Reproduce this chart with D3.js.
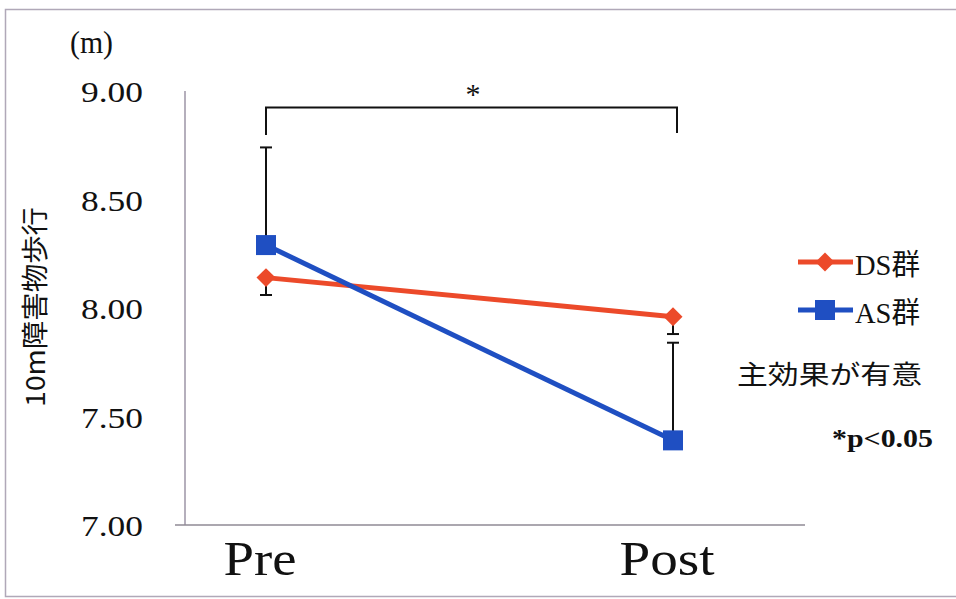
<!DOCTYPE html>
<html>
<head>
<meta charset="utf-8">
<script src="https://cdn.jsdelivr.net/npm/d3@7"></script>
<style>
  html, body { margin: 0; padding: 0; background: #fff; }
  svg { display: block; }
  text { font-family: "Liberation Serif", "Noto Sans CJK JP", serif; fill: #111; }
  .cjk { font-family: "Noto Sans CJK JP", "Liberation Serif", sans-serif; }
</style>
</head>
<body>
<svg id="chart" width="956" height="599"></svg>
<script>
// Measurement times
const phases = ["Pre", "Post"];
// Group means (m)
const groups = ["DS群", "AS群"];
const dsMeans = [8.14, 7.96];
const asMeans = [8.29, 7.39];
// Standard deviations, drawn one-sided (DS below, AS above)
const dsSD = [0.08, 0.08];
const asSD = [0.45, 0.45];
const yTicks = [7.0, 7.5, 8.0, 8.5, 9.0];
const yTickLabels = ["7.00", "7.50", "8.00", "8.50", "9.00"];
const yTitle = "10m障害物歩行";
const unitLabel = "(m)";
const effectNote = "主効果が有意";
const pNote = "*p<0.05";

const colors = { "DS群": "#ec4a2a", "AS群": "#1f4fc2" };

const svg = d3.select("#chart");

// outer frame
svg.append("path")
  .attr("d", "M 970 9.5 H 5.5 V 596.5 H 970")
  .attr("fill", "none").attr("stroke", "#b0a8b8").attr("stroke-width", 1.5);

const y = d3.scaleLinear().domain([7, 9]).range([525, 91]);
const x = d3.scalePoint().domain(phases).range([266, 673]);

// y axis line
svg.append("line")
  .attr("x1", 185).attr("x2", 185).attr("y1", y(9)).attr("y2", y(7))
  .attr("stroke", "#9c94a6").attr("stroke-width", 1.5);
// x axis line
svg.append("line")
  .attr("x1", 175).attr("x2", 805).attr("y1", y(7)).attr("y2", y(7))
  .attr("stroke", "#8f8a94").attr("stroke-width", 1.5);

// y tick labels
svg.append("g").selectAll("text").data(yTicks).join("text")
  .attr("x", 143).attr("y", d => y(d) + 11)
  .attr("text-anchor", "end")
  .attr("font-size", 30)
  .attr("textLength", 62).attr("lengthAdjust", "spacingAndGlyphs")
  .text((d, i) => yTickLabels[i]);

// unit label
svg.append("text").attr("x", 70).attr("y", 53)
  .attr("font-size", 31)
  .attr("textLength", 43).attr("lengthAdjust", "spacingAndGlyphs")
  .text(unitLabel);

// y title (rotated)
svg.append("text").attr("class", "cjk")
  .attr("transform", "translate(45,307) rotate(-90)")
  .attr("text-anchor", "middle")
  .attr("font-size", 27)
  .attr("textLength", 200).attr("lengthAdjust", "spacingAndGlyphs")
  .text(yTitle);

// x category labels
const xLabelWidth = { Pre: 73, Post: 95 };
svg.append("g").selectAll("text").data(phases).join("text")
  .attr("x", d => x(d) - 6).attr("y", 575)
  .attr("text-anchor", "middle")
  .attr("font-size", 48)
  .attr("textLength", d => xLabelWidth[d]).attr("lengthAdjust", "spacingAndGlyphs")
  .text(d => d);

// error bars
function errorBar(px, from, to) {
  const g = svg.append("g").attr("stroke", "#111").attr("stroke-width", 2);
  g.append("line").attr("x1", px).attr("x2", px).attr("y1", y(from)).attr("y2", y(to));
  g.append("line").attr("x1", px - 6).attr("x2", px + 6).attr("y1", y(to)).attr("y2", y(to));
}
phases.forEach((p, i) => {
  errorBar(x(p), dsMeans[i], dsMeans[i] - dsSD[i]);
  errorBar(x(p), asMeans[i], asMeans[i] + asSD[i]);
});

// series lines
const line = d3.line().x((d, i) => x(phases[i])).y(d => y(d));
svg.append("path").datum(dsMeans).attr("d", line)
  .attr("fill", "none").attr("stroke", colors["DS群"]).attr("stroke-width", 5);
svg.append("path").datum(asMeans).attr("d", line)
  .attr("fill", "none").attr("stroke", colors["AS群"]).attr("stroke-width", 5);

// markers
const diamond = d3.symbol().type(d3.symbolSquare).size(180);
svg.append("g").selectAll("path").data(dsMeans).join("path")
  .attr("d", diamond())
  .attr("transform", (d, i) => `translate(${x(phases[i])},${y(d)}) rotate(45)`)
  .attr("fill", colors["DS群"]);
svg.append("g").selectAll("rect").data(asMeans).join("rect")
  .attr("x", (d, i) => x(phases[i]) - 10).attr("y", d => y(d) - 10)
  .attr("width", 20).attr("height", 20)
  .attr("fill", colors["AS群"]);

// significance bracket
svg.append("path")
  .attr("d", `M ${x("Pre")} 135 V 107.5 H 677 V 133`)
  .attr("fill", "none").attr("stroke", "#111").attr("stroke-width", 2);
svg.append("text").attr("x", 473).attr("y", 104)
  .attr("text-anchor", "middle").attr("font-size", 30)
  .text("*");

// legend
const legend = svg.append("g");
groups.forEach((g, i) => {
  const ly = 262 + i * 48;
  legend.append("line").attr("x1", 798).attr("x2", 853).attr("y1", ly).attr("y2", ly)
    .attr("stroke", colors[g]).attr("stroke-width", 5);
  if (i === 0) {
    legend.append("path").attr("d", diamond())
      .attr("transform", `translate(825,${ly}) rotate(45)`).attr("fill", colors[g]);
  } else {
    legend.append("rect").attr("x", 815).attr("y", ly - 10).attr("width", 20).attr("height", 20)
      .attr("fill", colors[g]);
  }
  legend.append("text").attr("x", 855).attr("y", ly + 13)
    .attr("font-size", 29)
    .attr("textLength", 65).attr("lengthAdjust", "spacingAndGlyphs")
    .text(g);
});

// notes
svg.append("text").attr("class", "cjk").attr("x", 737).attr("y", 384)
  .attr("font-size", 26)
  .attr("textLength", 185).attr("lengthAdjust", "spacingAndGlyphs")
  .text(effectNote);
svg.append("text").attr("x", 832).attr("y", 447)
  .attr("font-size", 25).attr("font-weight", "bold")
  .attr("textLength", 101).attr("lengthAdjust", "spacingAndGlyphs")
  .text(pNote);
</script>
</body>
</html>
